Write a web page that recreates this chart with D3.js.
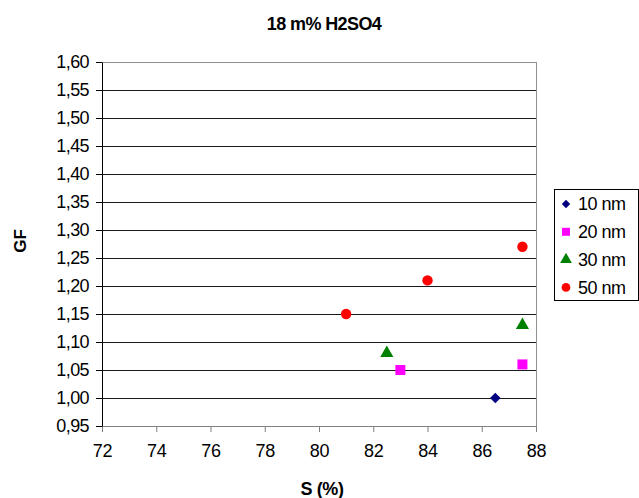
<!DOCTYPE html>
<html><head><meta charset="utf-8">
<script src="https://cdn.jsdelivr.net/npm/d3@7"></script>
<style>body{margin:0;background:#fff}svg{display:block;font-family:"Liberation Sans",Arial,sans-serif}</style>
</head><body><svg id="c" width="639" height="498"></svg>
<script>
const title = "18 m% H2SO4";
const xLabel = "S (%)";
const yLabel = "GF";
const seriesNames = ["10 nm", "20 nm", "30 nm", "50 nm"];
const seriesColors = ["#000080", "#FF00FF", "#008000", "#FF0000"];
const seriesShapes = ["diamond", "square", "triangle", "circle"];
const s10x = [86.5], s10y = [1.00];
const s20x = [83.0, 87.5], s20y = [1.05, 1.06];
const s30x = [82.5, 87.5], s30y = [1.08, 1.13];
const s50x = [81.0, 84.0, 87.5], s50y = [1.15, 1.21, 1.27];
const xTicks = [72, 74, 76, 78, 80, 82, 84, 86, 88];
const yTicks = [0.95,1.00,1.05,1.10,1.15,1.20,1.25,1.30,1.35,1.40,1.45,1.50,1.55,1.60];

const svg = d3.select("#c");
const L = 102, R = 536, T = 62, B = 426;
const x = d3.scaleLinear().domain([72, 88]).range([L, R]);
const y = d3.scaleLinear().domain([0.95, 1.60]).range([B, T]);
const fmt = v => v.toFixed(2).replace(".", ",");

// gridlines
svg.append("g").selectAll("line").data(yTicks.slice(1)).join("line")
  .attr("x1", L).attr("x2", R).attr("y1", d => y(d)).attr("y2", d => y(d))
  .attr("stroke", "#1a1a1a").attr("stroke-width", 1).attr("shape-rendering", "crispEdges");
// plot border top/right
svg.append("path").attr("d", `M${L},${T}H${R}V${B}`).attr("fill", "none")
  .attr("stroke", "#909090").attr("shape-rendering", "crispEdges");

// x axis
const xa = svg.append("g").attr("transform", `translate(0,${B})`)
  .call(d3.axisBottom(x).tickValues(xTicks).tickSize(6).tickSizeOuter(0).tickPadding(12));
xa.select(".domain").attr("stroke", "#808080");
xa.selectAll(".tick line").attr("stroke", "#808080");
xa.selectAll("text").attr("font-size", 18).attr("letter-spacing", -0.3).attr("fill", "#000").attr("font-family", "Liberation Sans, Arial").attr("dy", "0.71em");

// y axis
const ya = svg.append("g").attr("transform", `translate(${L},0)`)
  .call(d3.axisLeft(y).tickValues(yTicks).tickFormat(fmt).tickSize(6).tickSizeOuter(0).tickPadding(7));
ya.select(".domain").attr("stroke", "#000");
ya.selectAll(".tick line").attr("stroke", "#000");
ya.selectAll("text").attr("font-size", 18).attr("letter-spacing", -0.6).attr("fill", "#000").attr("font-family", "Liberation Sans, Arial");

// titles
svg.append("text").attr("x", 324).attr("y", 30).attr("text-anchor", "middle")
  .attr("font-size", 18).attr("letter-spacing", -0.6).attr("font-weight", "bold").text(title);
svg.append("text").attr("x", 322).attr("y", 495).attr("text-anchor", "middle")
  .attr("font-size", 18).attr("letter-spacing", -0.4).attr("font-weight", "bold").text(xLabel);
svg.append("text").attr("transform", "translate(26,241) rotate(-90)").attr("text-anchor", "middle")
  .attr("font-size", 17).attr("font-weight", "bold").text(yLabel);

// markers
const sym = {
  diamond: d3.symbol().type(d3.symbolDiamond2).size(70),
  square: d3.symbol().type(d3.symbolSquare).size(100),
  triangle: d3.symbol().type(d3.symbolTriangle).size(75),
  circle: d3.symbol().type(d3.symbolCircle).size(85)
};
const allX = [s10x, s20x, s30x, s50x], allY = [s10y, s20y, s30y, s50y];
allX.forEach((xs, i) => {
  svg.append("g").selectAll("path").data(xs.map((v, j) => [v, allY[i][j]])).join("path")
    .attr("transform", d => `translate(${x(d[0])},${y(d[1])})`)
    .attr("d", sym[seriesShapes[i]]())
    .attr("fill", seriesColors[i]);
});

// legend
const lg = svg.append("g");
lg.append("rect").attr("x", 554.5).attr("y", 189.5).attr("width", 84).attr("height", 111)
  .attr("fill", "#fff").attr("stroke", "#000");
seriesNames.forEach((n, i) => {
  const cy = 204 + i * 27.8;
  const sm = {
    diamond: d3.symbol().type(d3.symbolDiamond2).size(45),
    square: d3.symbol().type(d3.symbolSquare).size(64),
    triangle: d3.symbol().type(d3.symbolTriangle).size(60),
    circle: d3.symbol().type(d3.symbolCircle).size(60)
  };
  lg.append("path").attr("transform", `translate(566,${cy})`).attr("d", sm[seriesShapes[i]]())
    .attr("fill", seriesColors[i]);
  lg.append("text").attr("x", 578).attr("y", cy).attr("dy", "0.36em")
    .attr("font-size", 18).attr("letter-spacing", -0.5).text(n);
});
</script></body></html>
